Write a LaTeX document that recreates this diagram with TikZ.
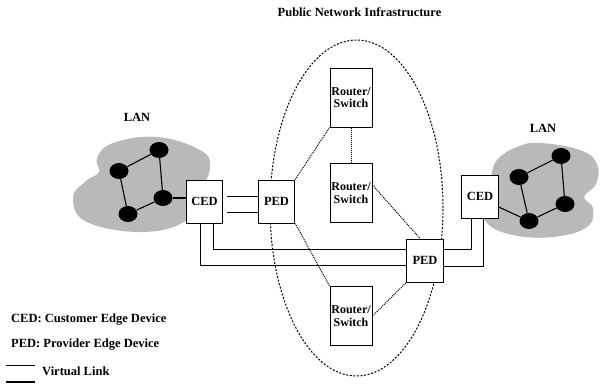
\documentclass[tikz,border=0pt]{standalone}
\usepackage{fontspec}
\setmainfont{Liberation Serif}
\usetikzlibrary{calc,shapes.geometric}
\definecolor{langray}{RGB}{185,185,185}
\tikzset{
  txt/.style={font=\bfseries\fontsize{12.5}{13}\selectfont, inner sep=0pt},
  devbox/.style={draw, line width=1pt, fill=white, inner sep=0pt, align=center,
    font=\bfseries\fontsize{12.5}{12.5}\selectfont},
  rbox/.style={devbox, minimum width=42pt, minimum height=59pt,
    font=\bfseries\fontsize{12}{12.5}\selectfont},
  ebox/.style={devbox, minimum width=36.5pt, minimum height=43pt},
  lanlink/.style={line width=1.1pt},
  dotnode/.style={ellipse, fill=black, minimum width=19pt, minimum height=16pt, inner sep=0pt},
  plink/.style={line width=1pt},
  vlink/.style={densely dotted, line width=1pt},
  cloudline/.style={dash pattern=on 2pt off 1.6pt, line width=1pt}
}
\begin{document}
\begin{tikzpicture}[x=1pt,y=-1pt]
\useasboundingbox (0,0) rectangle (602,383);
% title and labels
\node[txt] (title) at (359.5,12) {Public Network Infrastructure};
\node[txt] (lanL) at (137,117) {LAN};
\node[txt] (lanR) at (543,128) {LAN};
% LAN blobs
\fill[langray] plot[smooth cycle, tension=0.7] coordinates {
  (157,137) (200,150) (210,167) (200,193) (187,220) (143,232)
  (87,222) (73,198) (86,181) (99,172) (97,158) (113,143)};
\fill[langray] plot[smooth cycle, tension=0.7] coordinates {
  (540,143) (580,150) (597,164) (596,184) (584,197) (593,208)
  (587,227) (553,237) (513,235) (487,223) (483,203) (490,180)
  (497,160) (517,147)};
% LAN dots
\node[dotnode] (a1) at (159,150) {};
\node[dotnode] (a2) at (119,171) {};
\node[dotnode] (a3) at (163,198) {};
\node[dotnode] (a4) at (128,214) {};
\node[dotnode] (b1) at (561,156) {};
\node[dotnode] (b2) at (519,177) {};
\node[dotnode] (b3) at (565,204) {};
\node[dotnode] (b4) at (529,221) {};
\draw[lanlink] (a1) -- (a2) -- (a4) -- (a3) -- (a1);
\draw[lanlink] (b1) -- (b2) -- (b4) -- (b3) -- (b1);
% public network cloud
\draw[cloudline] (356.5,208) ellipse [x radius=86.5pt, y radius=168pt];
% devices
\node[ebox] (cl) at (204.5,201.5) {CED};
\node[ebox] (pl) at (276.5,201.5) {PED};
\node[rbox] (rt) at (351,97.5) {Router/\\Switch};
\node[rbox] (rm) at (351,193) {Router/\\Switch};
\node[rbox] (rb) at (351,316) {Router/\\Switch};
\node[ebox] (pr) at (425,260.5) {PED};
\node[ebox] (cr) at (480,196.5) {CED};
% LAN to CED
\draw[lanlink] (a3) -- (cl.west |- a3);
\draw[lanlink] (cr.east |- 0,207) -- (b4);
% physical / virtual links
\draw[plink] ($(cl.east)+(4,-5.5)$) -- ($(pl.west)+(0,-5.5)$);
\draw[plink] ($(cl.east)+(4,10.5)$) -- ($(pl.west)+(0,10.5)$);
\draw[plink] ($(cl.south)+(-4.5,0)$) |- ($(pr.west)+(0,5)$);
\draw[plink] ($(cl.south)+(8.5,0)$) |- ($(pr.west)+(0,-11.5)$);
\draw[plink] ($(pr.east)+(0,-11)$) -| ($(cr.south)+(-9,0)$);
\draw[plink] ($(pr.east)+(0,5.5)$) -| ($(cr.south)+(3,0)$);
% provider network internal links
\draw[vlink] (pl.north east) -- (rt.south west);
\draw[vlink] (rt.south) -- (rm.north);
\draw[vlink] ($(rm.east)+(0,-8)$) -- ($(pr.north)+(-5,0)$);
\draw[vlink] (pl.south east) -- (rb.north west);
\draw[vlink] (rb.east) -- (pr.south west);
% legend
\node[txt, anchor=west] (leg1) at (11,320) {CED: Customer Edge Device};
\node[txt, anchor=west] (leg2) at (11,345) {PED: Provider Edge Device};
\coordinate (v1) at (6,365.5);
\coordinate (v2) at (35,365.5);
\draw[line width=1.1pt] (v1) -- (v2);
\node[txt, anchor=west] (leg3) at (42,371) {Virtual Link};
\coordinate (p1) at (6,382);
\coordinate (p2) at (35,382);
\draw[line width=1.4pt] (p1) -- (p2);
\end{tikzpicture}
\end{document}
